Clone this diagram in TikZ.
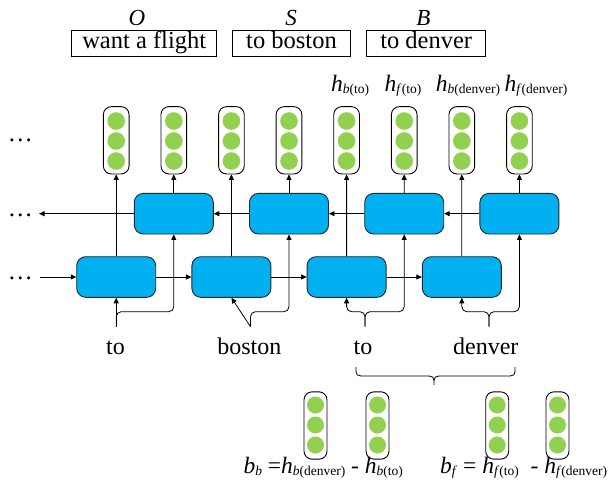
\documentclass[tikz,border=0pt]{standalone}
\usepackage{fontspec}
\setmainfont{Liberation Serif}
\usetikzlibrary{arrows.meta,calc}
\definecolor{cellblue}{HTML}{00B0F0}
\definecolor{dotgreen}{HTML}{92D050}
\newcommand{\mysub}[2]{\raisebox{-2pt}{\fontsize{13.5}{14}\selectfont\textit{#1}#2}}
\newcommand{\hlab}[2]{\textit{h}\mysub{#1}{#2}}
\begin{document}
\begin{tikzpicture}[x=1pt,y=-1pt,
  capsule/.style={draw, line width=0.9pt, fill=white, rounded corners=8pt, minimum width=25.7pt, minimum height=67.3pt, inner sep=0pt},
  smallcap/.style={capsule, minimum width=23pt},
  dotc/.style={circle, fill=dotgreen, minimum size=17.6pt, inner sep=0pt},
  sdotc/.style={circle, fill=dotgreen, minimum size=17pt, inner sep=0pt},
  cell/.style={draw=black!85, line width=0.9pt, fill=cellblue, rounded corners=9pt, minimum width=79pt, minimum height=40.6pt, inner sep=0pt},
  conn/.style={line width=0.8pt, -{Triangle[length=5.5pt,width=5pt]}},
  plain/.style={line width=0.8pt},
  tagbox/.style={draw, line width=0.9pt, minimum height=26pt, inner sep=0pt, text height=17pt, text depth=5pt, font=\fontsize{24.5}{28}\selectfont},
  tag/.style={font=\fontsize{23}{26}\selectfont\itshape, anchor=base, inner sep=0pt},
  word/.style={font=\fontsize{24}{28}\selectfont, anchor=base, inner sep=0pt},
  hl/.style={font=\fontsize{23.5}{26}\selectfont, anchor=base, inner sep=0pt},
  ell/.style={font=\fontsize{25}{28}\selectfont, anchor=base, inner sep=0pt}
]
\useasboundingbox (0,0) rectangle (609,492);

% top chunk boxes and tags
\node[tagbox, minimum width=145pt] (t1) at (144.2,43) {want a flight};
\node[tagbox, minimum width=118.4pt] (t2) at (291.5,43) {to boston};
\node[tagbox, minimum width=119pt] (t3) at (426.2,43) {to denver};
\node[tag] (lO) at (137,26) {O};
\node[tag] (lS) at (291,26) {S};
\node[tag] (lB) at (423.3,26) {B};

% h labels
\node[hl] (h1) at (350,91.7) {\hlab{b}{(to)}};
\node[hl] (h2) at (403,91.7) {\hlab{f}{(to)}};
\node[hl] (h3) at (468,91.7) {\hlab{b}{(denver)}};
\node[hl] (h4) at (536,91.7) {\hlab{f}{(denver)}};

% output capsules
\foreach \i in {1,...,8}{
  \pgfmathsetmacro\cx{116.2+57.6*(\i-1)}
  \node[capsule] (cap\i) at (\cx,140.3) {};
  \foreach \k/\cy in {1/121,2/141,3/161}
    \node[dotc] (cap\i d\k) at (\cx,\cy) {};
}

% LSTM cells
\foreach \i in {1,...,4}{
  \pgfmathsetmacro\fx{116.2+115.2*(\i-1)}
  \pgfmathsetmacro\bx{173.8+115.2*(\i-1)}
  \node[cell] (f\i) at (\fx,277) {};
  \node[cell] (b\i) at (\bx,213.7) {};
}

% ellipses
\node[ell] (e1) at (20.5,141.5) {…};
\node[ell] (e2) at (20.5,216) {…};
\node[ell] (e3) at (20.5,279.5) {…};
\coordinate (out2) at (39,213.7);
\coordinate (in3) at (40,277);

% recurrent arrows
\draw[conn] (in3) -- (f1);
\draw[conn] (f1) -- (f2);
\draw[conn] (f2) -- (f3);
\draw[conn] (f3) -- (f4);
\draw[conn] (b4) -- (b3);
\draw[conn] (b3) -- (b2);
\draw[conn] (b2) -- (b1);
\draw[conn] (b1) -- (out2);

% cell outputs to capsules
\draw[conn] (f1) -- (cap1);
\draw[conn] (b1) -- (cap2);
\draw[conn] (f2) -- (cap3);
\draw[conn] (b2) -- (cap4);
\draw[conn] (f3) -- (cap5);
\draw[conn] (b3) -- (cap6);
\draw[conn] (f4) -- (cap7);
\draw[conn] (b4) -- (cap8);

% words
\node[word] (w1) at (115.5,354) {to};
\node[word] (w2) at (249.3,354) {boston};
\node[word] (w3) at (363,354) {to};
\node[word] (w4) at (485.8,354) {denver};

\coordinate (hy) at (0,311.7);
\coordinate (s1) at (116.2,326.7);
\coordinate (s2) at (250.5,326.7);
\coordinate (s3) at (365,326.7);
\coordinate (s4) at (489,326.7);

\draw[conn] (s1) -- (f1);
\draw[conn, rounded corners=5pt] (s1) |- (b1.south |- hy) -- (b1.south);
\draw[conn] (s2) -- (f2.south);
\draw[conn, rounded corners=5pt] (s2) |- (b2.south |- hy) -- (b2.south);
\draw[conn, rounded corners=5pt] (s3) |- (f3.south |- hy) -- (f3.south);
\draw[conn, rounded corners=5pt] (s3) |- (b3.south |- hy) -- (b3.south);
\draw[conn, rounded corners=5pt] (s4) |- (f4.south |- hy) -- (f4.south);
\draw[conn, rounded corners=5pt] (s4) |- (b4.south |- hy) -- (b4.south);

% big brace
\draw[plain] (356,367) .. controls (356,376) .. (366,376) -- (424,376)
  .. controls (434,376) .. (434,385) .. controls (434,376) .. (444,376)
  -- (505,376) .. controls (515,376) .. (515,367);

% bottom capsules
\foreach \i/\cx in {1/315.5,2/377.5,3/497.2,4/557.5}{
  \node[smallcap] (v\i) at (\cx,425.5) {};
  \foreach \k/\cy in {1/405,2/425,3/445}
    \node[sdotc] (v\i d\k) at (\cx,\cy) {};
}

% formulas
\node[hl, anchor=base west] (fb) at (243.3,473.3) {\textit{b}\mysub{b}{} =\hlab{b}{(denver)} - \hlab{b}{(to)}};
\node[hl, anchor=base west] (ff) at (440,473.3) {\textit{b}\mysub{f}{} = \hlab{f}{(to)} \ - \hlab{f}{(denver)}};
\end{tikzpicture}
\end{document}
